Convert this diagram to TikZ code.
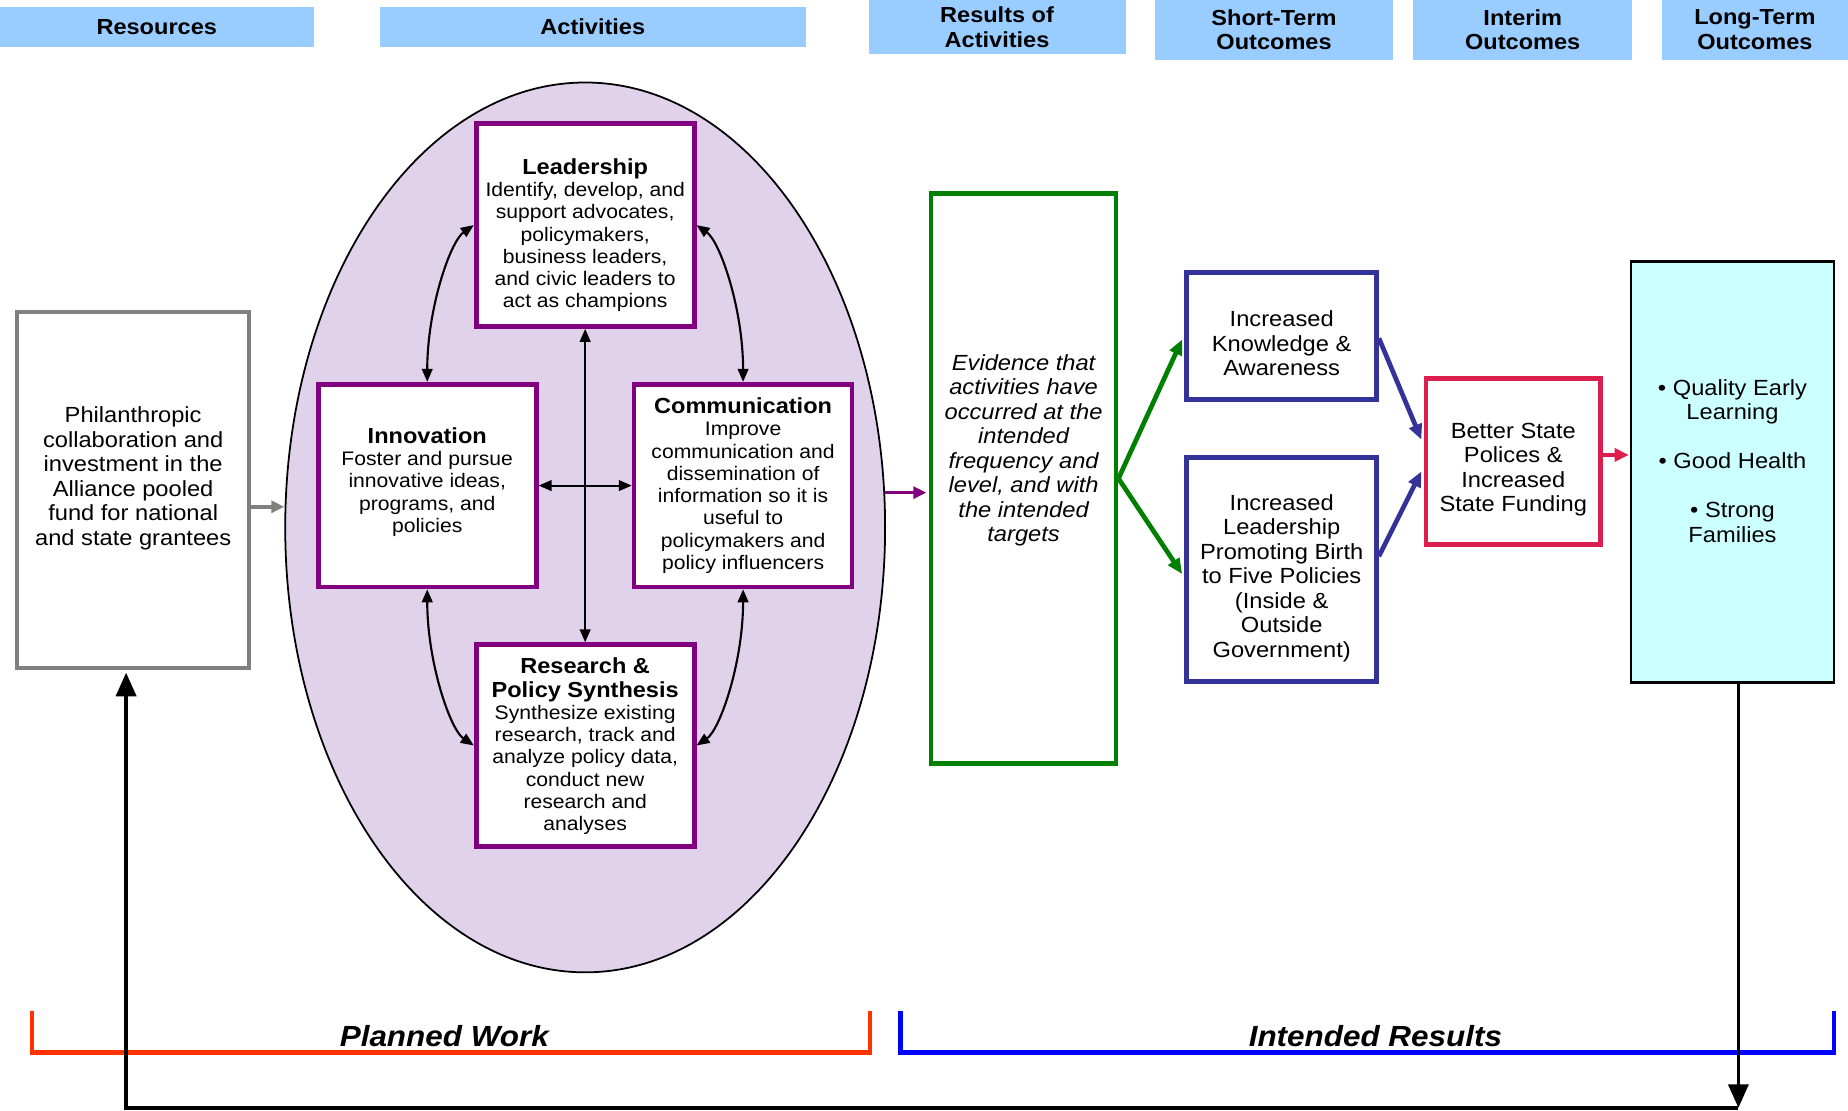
\documentclass[tikz,border=0pt]{standalone}
\usepackage{fontspec}
\setmainfont{Liberation Sans}[FakeStretch=1.08]
\usetikzlibrary{shapes.geometric,arrows.meta,calc}
\definecolor{hdrblue}{HTML}{99CCFF}
\definecolor{ellfill}{HTML}{E1D2EC}
\definecolor{actpurple}{HTML}{800080}
\definecolor{resgreen}{HTML}{008000}
\definecolor{stnavy}{HTML}{333399}
\definecolor{incrimson}{HTML}{DC1F4F}
\definecolor{ltcyan}{HTML}{CCFFFF}
\definecolor{resgray}{HTML}{808080}
\definecolor{pwred}{HTML}{FF3300}
\definecolor{irblue}{HTML}{0000FF}
\newcommand{\bodyf}{\fontsize{18.6}{20.8}\selectfont}
\newcommand{\actf}{\fontsize{16.6}{18.9}\selectfont}
\newcommand{\titlef}{\bfseries\fontsize{18.5}{20.8}\selectfont}
\newcommand{\hdrf}{\bfseries\fontsize{18.5}{21}\selectfont}
\newcommand{\brkf}{\bfseries\itshape\fontsize{24.7}{28}\selectfont}
\begin{document}
\begin{tikzpicture}[x=1pt,y=1pt,
  hdr/.style={fill=hdrblue, inner sep=0pt, align=center, font=\hdrf},
  actbox/.style={draw=actpurple, line width=4pt, fill=white, minimum width=185pt, minimum height=172pt, inner sep=0pt},
  acttext/.style={align=center, font=\actf, inner sep=0pt},
  btext/.style={align=center, font=\bodyf, inner sep=0pt},
  dbl/.style={{Triangle[length=11pt,width=9pt]}-{Triangle[length=11pt,width=9pt]}, line width=1.8pt, draw=black},
  grayarr/.style={-{Triangle[length=11pt,width=10pt]}, draw=resgray, line width=3pt},
  purparr/.style={-{Triangle[length=11pt,width=10pt]}, draw=actpurple, line width=3pt},
  greenarr/.style={-{Triangle[length=13pt,width=11pt]}, draw=resgreen, line width=4pt},
  navyarr/.style={-{Triangle[length=13pt,width=11pt]}, draw=stnavy, line width=4pt},
  crimarr/.style={-{Triangle[length=12pt,width=11pt]}, draw=incrimson, line width=4pt},
  fbline/.style={draw=black, line width=3pt},
  fbtip/.style={-{Triangle[length=20pt,width=17pt]}},
  brk/.style={line width=3.5pt, line join=miter}
]
\useasboundingbox (0,0) rectangle (1568,-942.66);

% headers
\node[hdr, minimum width=266pt, minimum height=34pt] (h1) at (133,-23) {\raisebox{-1pt}{Resources}};
\node[hdr, minimum width=362pt, minimum height=34pt] (h2) at (503,-23) {\raisebox{-1pt}{Activities}};
\node[hdr, minimum width=218pt, minimum height=46pt] (h3) at (846,-23) {Results of\\Activities};
\node[hdr, minimum width=202pt, minimum height=50.5pt] (h4) at (1081,-25.25) {Short-Term\\Outcomes};
\node[hdr, minimum width=186pt, minimum height=50.5pt] (h5) at (1292,-25.25) {Interim\\Outcomes};
\node[hdr, minimum width=158pt, minimum height=50.5pt] (h6) at (1489,-25.25) {Long-Term\\Outcomes};

% resources
\node[draw=resgray, line width=3.5pt, fill=white, minimum width=197pt, minimum height=302pt, inner sep=0pt] (res) at (113,-416) {};
\node[btext] (res-t) at (113,-406) {Philanthropic\\collaboration and\\investment in the\\Alliance pooled\\fund for national\\and state grantees};

% ellipse and activities
\node[ellipse, draw=black, line width=1.5pt, fill=ellfill, minimum width=509pt, minimum height=755pt, inner sep=0pt] (ell) at (496.5,-447.5) {};

\node[actbox] (lead) at (496.5,-191) {};
\node[acttext] (lead-t) at (496.5,-199.5) {{\titlef Leadership}\\Identify, develop, and\\support advocates,\\policymakers,\\business leaders,\\and civic leaders to\\act as champions};

\node[actbox] (innov) at (362.5,-412) {};
\node[acttext] (innov-t) at (362.5,-409) {{\titlef Innovation}\\Foster and pursue\\innovative ideas,\\programs, and\\policies};

\node[actbox] (comm) at (630.5,-412) {};
\node[acttext] (comm-t) at (630.5,-412) {{\titlef Communication}\\Improve\\communication and\\dissemination of\\information so it is\\useful to\\policymakers and\\policy influencers};

\node[actbox, minimum height=171pt] (resr) at (496.5,-632.5) {};
\node[acttext] (resr-t) at (496.5,-633) {{\titlef Research \&}\\[1.5pt]{\titlef Policy Synthesis}\\Synthesize existing\\research, track and\\analyze policy data,\\conduct new\\research and\\analyses};

% arrows inside ellipse
\draw[dbl] (innov.north) .. controls (362.5,-262) and (382,-205) .. (lead.west);
\draw[dbl] (comm.north) .. controls (630.5,-262) and (611,-205) .. (lead.east);
\draw[dbl] (innov.south) .. controls (362.5,-562) and (382,-619) .. (resr.west);
\draw[dbl] (comm.south) .. controls (630.5,-562) and (611,-619) .. (resr.east);
\draw[dbl] (lead.south) -- (resr.north);
\draw[dbl] (innov.east) -- (comm.west);

% resources to ellipse
\draw[grayarr] ($(res.east)+(0,-14)$) -- ($(ell.west)+(0,17.5)$);

% evidence
\node[draw=resgreen, line width=4pt, fill=white, minimum width=157pt, minimum height=484pt, inner sep=0pt] (evid) at (868.5,-406) {};
\node[btext, font=\bodyf\itshape] (evid-t) at (868.5,-382) {Evidence that\\activities have\\occurred at the\\intended\\frequency and\\level, and with\\the intended\\targets};
\draw[purparr] ($(ell.east)+(-0.8,29.5)$) -- ($(evid.west)+(-2,-12)$);

% short-term
\node[draw=stnavy, line width=4pt, fill=white, minimum width=161pt, minimum height=108pt, inner sep=0pt] (know) at (1087.5,-285) {};
\node[btext] (know-t) at (1087.5,-291.5) {Increased\\Knowledge \&\\Awareness};
\node[draw=stnavy, line width=4pt, fill=white, minimum width=161pt, minimum height=190pt, inner sep=0pt] (ldo) at (1087.5,-483) {};
\node[btext] (ldo-t) at (1087.5,-490.5) {Increased\\Leadership\\Promoting Birth\\to Five Policies\\(Inside \&\\Outside\\Government)};
\draw[greenarr] (evid.east) -- ($(know.west)+(-2,-3)$);
\draw[greenarr] (evid.east) -- ($(ldo.west)+(-2,-4)$);

% interim
\node[draw=incrimson, line width=4pt, fill=white, minimum width=148pt, minimum height=141pt, inner sep=0pt] (better) at (1284,-391.5) {};
\node[btext] (better-t) at (1284,-398.5) {Better State\\Polices \&\\Increased\\State Funding};
\draw[navyarr] ($(know.east)+(0,-2)$) -- ($(better.west)+(-2,18.5)$);
\draw[navyarr] ($(ldo.east)+(0,11)$) -- ($(better.west)+(-2,-8.5)$);

% long-term
\node[draw=black, line width=2pt, fill=ltcyan, minimum width=172pt, minimum height=357pt, inner sep=0pt] (lt) at (1470,-400.5) {};
\node[btext] (lt-t) at (1470,-391) {• Quality Early\\Learning\\[20.8pt]• Good Health\\[20.8pt]• Strong\\Families};
\draw[crimarr] ($(better.east)+(0,5.5)$) -- ($(lt.west)+(-1,14.5)$);

% brackets
\draw[brk, draw=pwred] (27,-858) -- (27,-893) -- (738,-893) -- (738,-858);
\draw[brk, draw=irblue] (764,-858) -- (764,-893) -- (1556,-893) -- (1556,-858);
\node[font=\brkf, inner sep=0pt] (pw) at (377,-879) {Planned Work};
\node[font=\brkf, inner sep=0pt] (ir) at (1167,-879) {Intended Results};

% feedback
\coordinate (fb1) at (1475,-940);
\coordinate (fb2) at (107,-940);
\draw[fbline, fbtip] ($(lt.south)+(5,0)$) -- (fb1);
\draw[fbline, fbtip] (fb1) -- (fb2) -- ($(res.south)+(-6,-2)$);
\end{tikzpicture}
\end{document}
